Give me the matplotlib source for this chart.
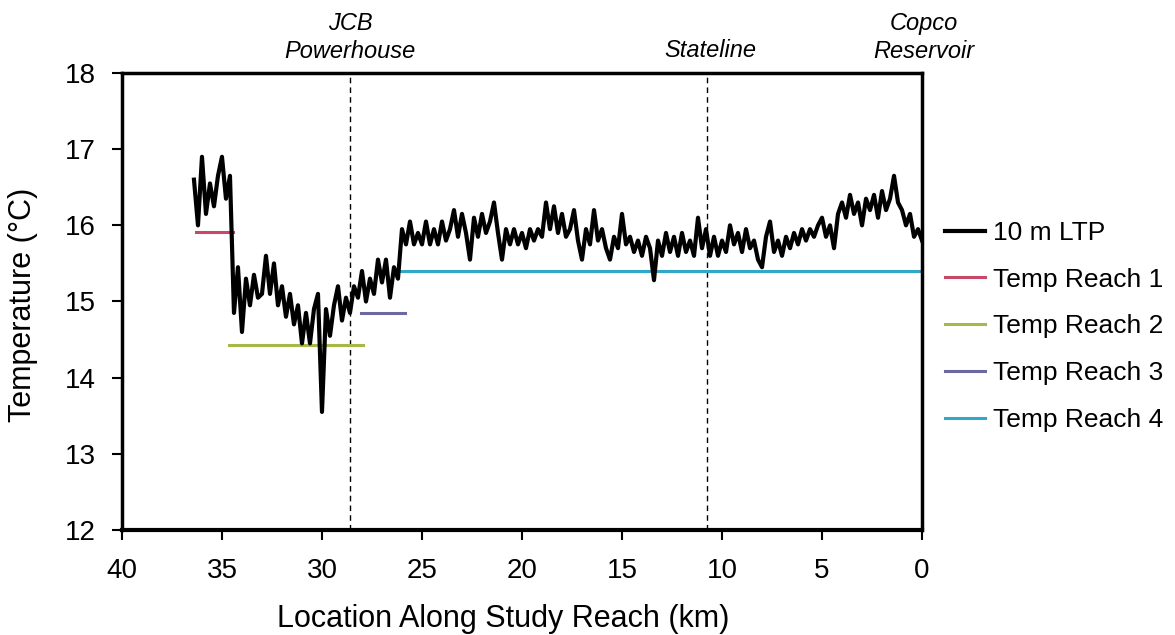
import numpy as np
import matplotlib
matplotlib.use('Agg')
import matplotlib.pyplot as plt
from matplotlib.transforms import blended_transform_factory

plt.rcParams['font.family'] = ['Liberation Sans', 'DejaVu Sans']

# 10 m longitudinal temperature profile, every 0.2 km from 36.4 km down to 0 km
ltp_temp = [
    16.6, 16.0, 16.9, 16.15, 16.55, 16.25, 16.65, 16.9, 16.35, 16.65,
    14.85, 15.45, 14.6, 15.3, 14.95, 15.35, 15.05, 15.1, 15.6, 15.1,
    15.5, 14.95, 15.2, 14.8, 15.1, 14.7, 14.95, 14.45, 14.85, 14.45,
    14.9, 15.1, 13.55, 14.9, 14.55, 14.95, 15.2, 14.75, 15.05, 14.85,
    15.2, 15.05, 15.4, 15.0, 15.3, 15.1, 15.55, 15.25, 15.55, 15.05,
    15.45, 15.3, 15.95, 15.75, 16.05, 15.75, 15.9, 15.75, 16.05, 15.75,
    15.95, 15.75, 16.05, 15.8, 15.95, 16.2, 15.85, 16.15, 15.9, 15.55,
    16.1, 15.85, 16.15, 15.9, 16.05, 16.3, 15.9, 15.55, 15.95, 15.75,
    15.95, 15.75, 15.9, 15.7, 15.95, 15.8, 15.95, 15.85, 16.3, 15.95,
    16.25, 15.9, 16.15, 15.85, 15.95, 16.2, 15.8, 15.55, 15.95, 15.75,
    16.2, 15.8, 15.95, 15.7, 15.55, 15.85, 15.7, 16.15, 15.75, 15.85,
    15.65, 15.8, 15.6, 15.85, 15.7, 15.28, 15.8, 15.6, 15.9, 15.65,
    15.85, 15.6, 15.9, 15.65, 15.8, 15.6, 16.1, 15.7, 15.95, 15.6,
    15.85, 15.6, 15.8, 15.65, 16.0, 15.75, 15.9, 15.65, 15.95, 15.7,
    15.8, 15.55, 15.45, 15.85, 16.05, 15.65, 15.8, 15.6, 15.85, 15.7,
    15.9, 15.75, 15.95, 15.8, 15.95, 15.85, 16.0, 16.1, 15.85, 16.0,
    15.7, 16.15, 16.3, 16.1, 16.4, 16.15, 16.3, 16.0, 16.35, 16.2,
    16.4, 16.1, 16.45, 16.2, 16.35, 16.65, 16.3, 16.2, 16.0, 16.15,
    15.85, 15.95, 15.8,
]
ltp_km = np.linspace(36.4, 0.0, len(ltp_temp))

# mean temperature of each reach
reach_names = ['Temp Reach 1', 'Temp Reach 2', 'Temp Reach 3', 'Temp Reach 4']
reach_start = [36.3, 34.65, 28.05, 26.05]
reach_end = [34.45, 27.95, 25.85, 0.0]
reach_temp = [15.91, 14.43, 14.85, 15.40]
reach_colors = ['#c8486a', '#a8b848', '#6a6aa0', '#30a8c8']

# landmarks along the reach
site_km = [28.6, 10.75]
site_labels = [('JCB\nPowerhouse', 28.6, 0.941), ('Stateline', 10.6, 0.92),
               ('Copco\nReservoir', -0.1, 0.941)]

fig = plt.figure(figsize=(11.75, 6.35), dpi=100)
ax = fig.add_axes([0.1038, 0.1654, 0.6809, 0.7196])

ax.plot(ltp_km, ltp_temp, color='black', lw=3, label='10 m LTP', zorder=3)
for name, x0, x1, t, c in zip(reach_names, reach_start, reach_end, reach_temp, reach_colors):
    ax.plot([x0, x1], [t, t], color=c, lw=2.2, label=name, zorder=2)

for km in site_km:
    ax.axvline(km, color='black', lw=1, ls=(0, (4, 3)), zorder=1)

ax.set_xlim(40, 0)
ax.set_ylim(12, 18)
ax.set_xticks(range(40, -1, -5))
ax.set_yticks(range(12, 19))
ax.tick_params(direction='out', length=7, width=1.5, labelsize=20)
ax.tick_params(axis='x', pad=13)
ax.tick_params(axis='y', pad=12)
for side in ['top', 'right', 'left']:
    ax.spines[side].set_linewidth(2.5)
ax.spines['bottom'].set_linewidth(3)

ax.set_xlabel('Location Along Study Reach (km)', fontsize=22)
ax.set_ylabel('Temperature (°C)', fontsize=22)
ax.xaxis.set_label_coords(0.476, -0.163)
ax.yaxis.set_label_coords(-0.105, 0.492)

trans = blended_transform_factory(ax.transData, fig.transFigure)
for text, km, y in site_labels:
    ax.text(km, y, text, transform=trans, ha='center', va='center',
            fontsize=17, style='italic', linespacing=1.25)

ax.legend(loc='center left', bbox_to_anchor=(945 / 1175, 0.486),
          bbox_transform=fig.transFigure, frameon=False, fontsize=19,
          handlelength=1.5, handletextpad=0.3, labelspacing=0.86,
          borderpad=0, borderaxespad=0)

fig.savefig('out.png', dpi=100)
